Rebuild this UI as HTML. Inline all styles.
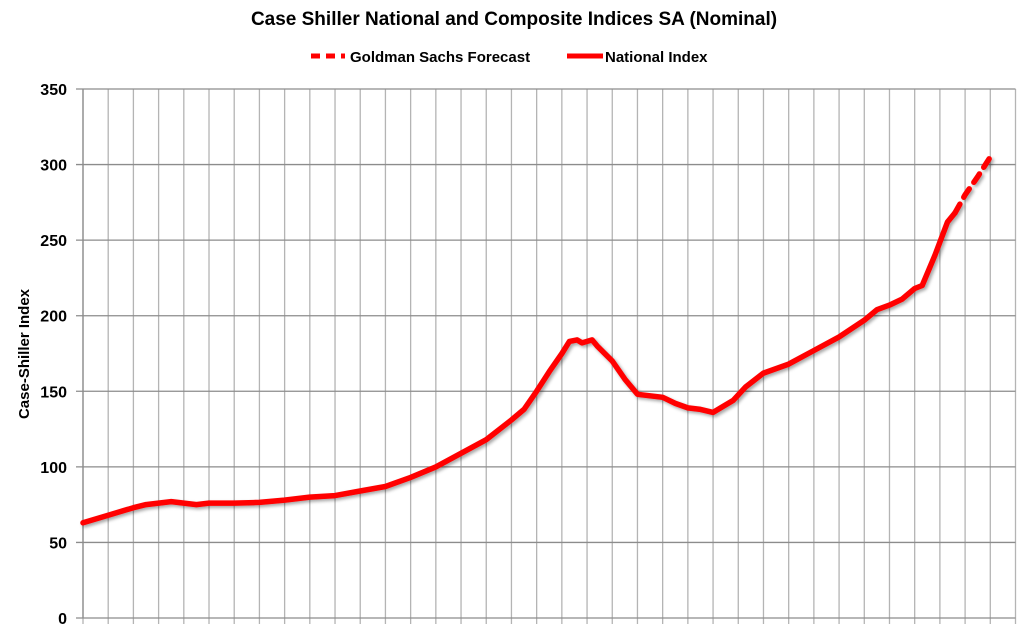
<!DOCTYPE html>
<html><head><meta charset="utf-8"><style>
html,body{margin:0;padding:0;width:1029px;height:630px;overflow:hidden;background:#fff;font-family:"Liberation Sans",sans-serif}
svg{display:block;overflow:hidden}
</style></head><body>
<svg id="chart" width="1029" height="630" font-family="Liberation Sans, sans-serif">
<defs><filter id="sh" x="-5%" y="-5%" width="110%" height="110%"><feDropShadow dx="2" dy="2" stdDeviation="1.5" flood-color="#000" flood-opacity="0.35"/></filter></defs>
<text x="514" y="25" text-anchor="middle" font-size="19" font-weight="bold">Case Shiller National and Composite Indices SA (Nominal)</text>
<g>
<line x1="311" y1="56" x2="345" y2="56" stroke="#f00" stroke-width="5" stroke-dasharray="9,6"/>
<text x="350" y="62" font-size="15" font-weight="bold">Goldman Sachs Forecast</text>
<line x1="567" y1="56" x2="603" y2="56" stroke="#f00" stroke-width="5"/>
<text x="605" y="62" font-size="15" font-weight="bold">National Index</text>
</g>
<text transform="translate(29,354) rotate(-90)" text-anchor="middle" font-size="15" font-weight="bold">Case-Shiller Index</text>
<g id="grid"></g><g id="ticks"></g><g id="series" filter="url(#sh)"></g>
</svg>
<script>
const yTicks=[0,50,100,150,200,250,300,350];
const startYear=1987, endYear=2024;
const nationalYears=[1987,1988,1989,1989.5,1990,1990.5,1991,1991.5,1992,1993,1994,1995,1996,1997,1998,1999,2000,2001,2002,2003,2004,2004.5,2005,2005.5,2006,2006.3,2006.6,2006.8,2007,2007.2,2007.4,2008,2008.5,2009,2009.5,2010,2010.5,2011,2011.5,2012,2012.3,2012.8,2013.3,2014,2015,2016,2017,2018,2018.5,2019,2019.5,2020,2020.3,2020.8,2021.3,2021.6];
const nationalValues=[63,68,73,75,76,77,76,75,76,76,76.5,78,80,81,84,87,93,100,109,118,131,138,150,163,175,183,184,182,183,184,180,170,158,148,147,146,142,139,138,136,139,144,153,162,168,177,186,197,204,207,211,218,220,240,262,268];
const forecastYears=[2021.6,2022,2022.5,2023];
const forecastValues=[268,280,292,305];
const NS="http://www.w3.org/2000/svg";
const X0=83,X1=1015.5,Y0=618,Y1=89;
const x=v=>X0+(v-startYear)*(X1-X0)/(endYear-startYear);
const y=v=>Y0-v*(Y0-Y1)/350;
function mk(t,a,p){const e=document.createElementNS(NS,t);for(const k in a)e.setAttribute(k,a[k]);p.appendChild(e);return e;}
const grid=document.getElementById('grid'),ticks=document.getElementById('ticks'),series=document.getElementById('series');
for(let yr=startYear;yr<=endYear;yr++){
 const l=mk('line',{x1:x(yr),x2:x(yr),y1:Y1,y2:Y0+6,stroke:'#b4b4b4','stroke-width':1.3},grid);
 
 
}
yTicks.forEach(v=>{
 const l=mk('line',{x1:X0-7,x2:X1,y1:y(v),y2:y(v),stroke:'#8c8c8c','stroke-width':1.3},grid);
 
 
 const t=mk('text',{x:67,y:y(v)+6,'text-anchor':'end','font-size':16,'font-weight':'bold'},ticks);
 t.textContent=v;
 
 
});
const ax=mk('line',{x1:X0,x2:X0,y1:Y1,y2:Y0,stroke:'#8c8c8c','stroke-width':1.3},grid);


const pts=(xs,vs)=>xs.map((d,i)=>x(d).toFixed(1)+','+y(vs[i]).toFixed(1)).join(' ');
const n=mk('polyline',{points:pts(nationalYears,nationalValues),fill:'none',stroke:'#f00','stroke-width':5.5,'stroke-linejoin':'round','stroke-linecap':'round'},series);


const f=mk('polyline',{points:pts(forecastYears,forecastValues),fill:'none',stroke:'#f00','stroke-width':5.5,'stroke-dasharray':'10,8','stroke-linecap':'round'},series);


</script>
</body></html>
